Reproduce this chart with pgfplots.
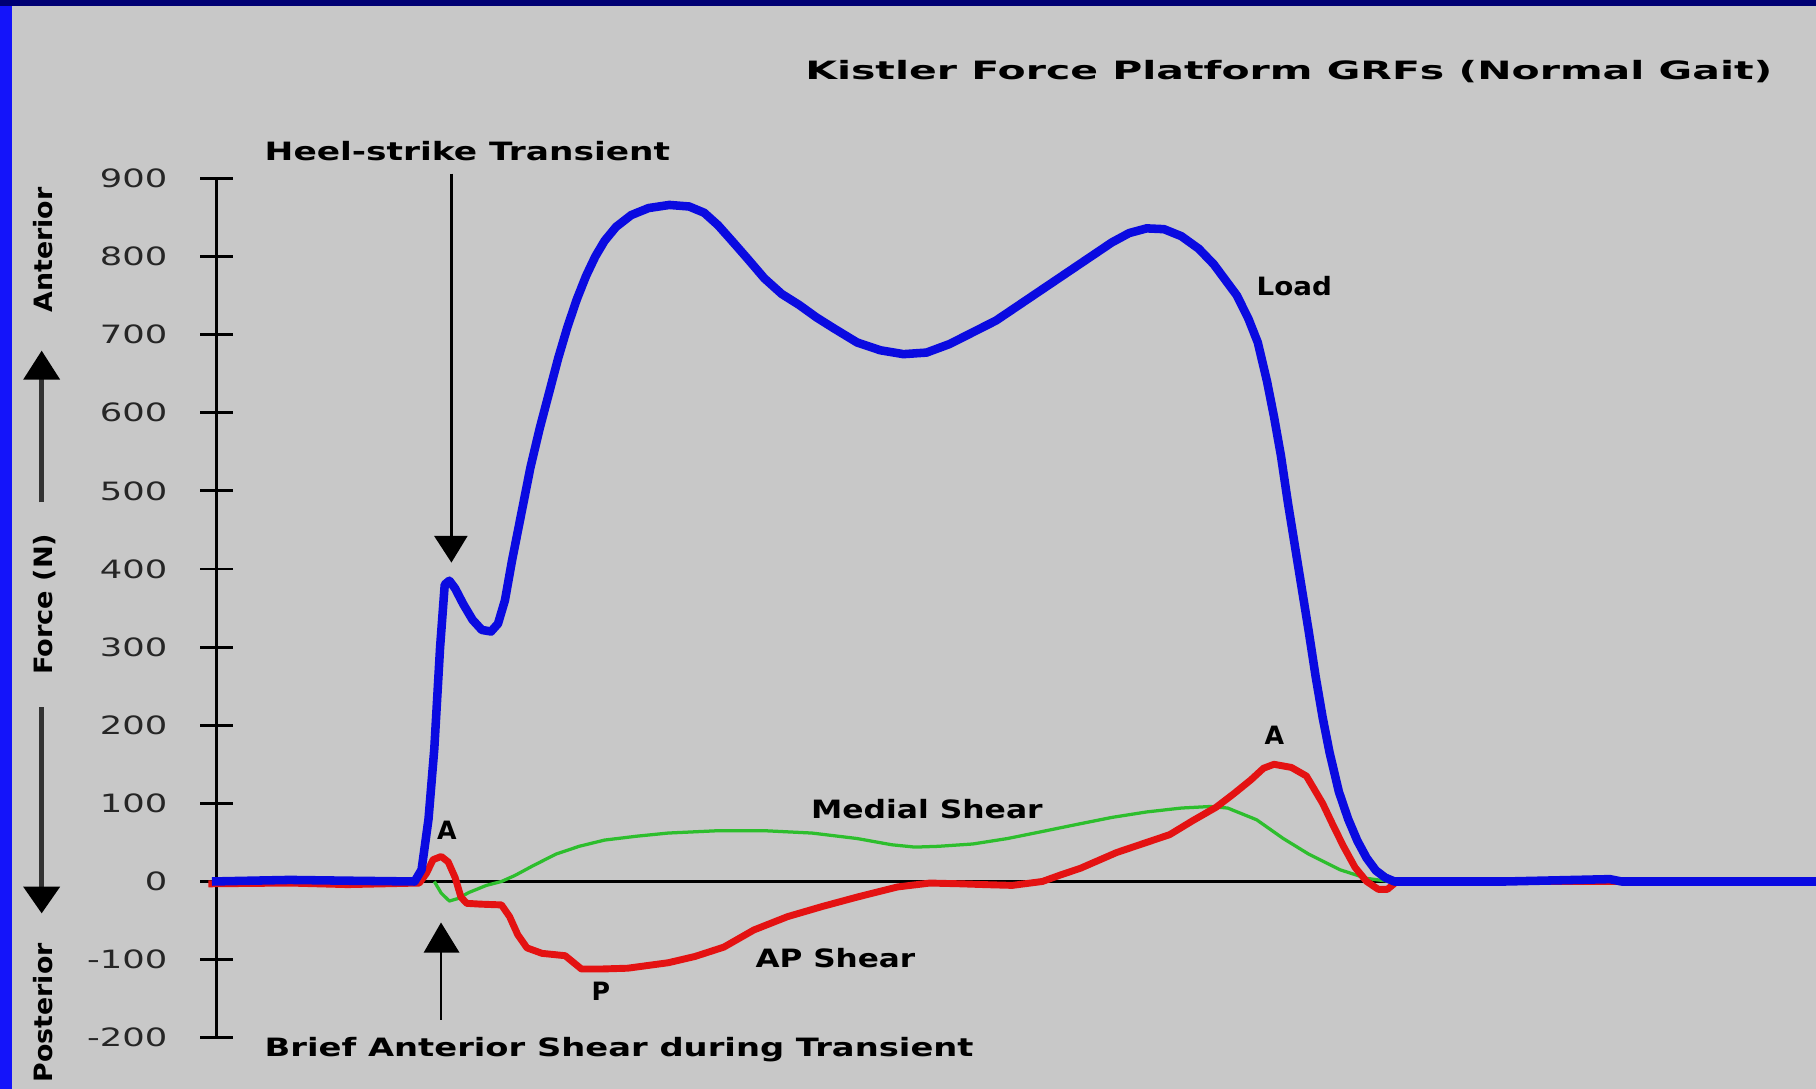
\documentclass[border=0pt]{standalone}
\usepackage{pgfplots}
\pgfplotsset{compat=1.18}
\usepackage{pgfplotstable}
\usepackage{fontspec}
\setmainfont{DejaVu Sans}
\usepackage{graphicx}
\definecolor{bgc}{RGB}{200,200,200}
\definecolor{lblue}{RGB}{10,10,225}
\definecolor{lred}{RGB}{228,18,18}
\definecolor{lgreen}{RGB}{45,190,45}
\definecolor{border}{RGB}{20,20,250}
\definecolor{navy}{RGB}{0,0,115}
\newcommand{\fitb}[2]{\resizebox{#1}{\height}{\fontsize{6.2pt}{7pt}\selectfont\bfseries #2}}

\pgfplotstableread{
x y
183 0
250 2
300 1
358 0
364 15
370 80
375 170
380 300
384 380
388 385
393 375
400 355
408 335
416 322
424 320
430 330
436 360
442 410
450 470
458 530
466 580
474 625
482 670
490 710
498 745
506 775
514 800
522 820
532 838
545 853
560 862
578 866
595 864
608 856
620 840
632 820
645 798
660 772
675 752
690 738
705 722
720 708
740 690
760 680
780 675
800 677
820 688
840 703
860 718
880 738
900 758
920 778
940 798
960 818
975 830
990 836
1005 835
1020 826
1035 810
1048 790
1058 770
1068 750
1078 720
1086 690
1094 640
1100 595
1106 545
1112 485
1118 430
1124 375
1130 320
1136 262
1142 210
1148 165
1156 115
1164 80
1172 52
1180 30
1188 14
1196 5
1204 0
1300 0
1390 3
1400 0
1568 0
}\bluetab

\pgfplotstableread{
x y
180 -3
250 -2
300 -4
362 -2
368 10
374 28
381 32
387 25
393 5
398 -20
403 -28
415 -29
433 -30
440 -45
447 -68
455 -85
468 -92
488 -95
502 -112
520 -112
542 -111
577 -104
600 -96
625 -84
651 -62
680 -45
710 -32
740 -20
775 -7
803 -2
830 -3
850 -4
874 -5
900 0
915 8
933 17
964 37
990 50
1010 60
1030 78
1050 95
1065 112
1080 130
1091 145
1100 150
1115 146
1128 135
1142 100
1151 72
1160 45
1170 18
1180 0
1190 -10
1198 -10
1206 0
1568 0
}\redtab

\pgfplotstableread{
x y
375 0
381 -15
388 -25
395 -22
405 -14
420 -5
433 0
445 8
460 20
480 35
500 45
522 53
550 58
577 62
620 65
660 65
701 62
740 55
770 47
790 44
810 45
840 48
870 55
900 64
933 74
960 82
990 89
1020 94
1045 96
1060 94
1085 79
1108 55
1130 35
1157 15
1180 4
1200 0
}\greentab

\begin{document}
\begin{tikzpicture}
\useasboundingbox (0,0) rectangle (15.68,9.40);
\fill[bgc] (0,0) rectangle (15.68,9.40);
\fill[border] (0,0) rectangle (0.10,9.40);
\fill[navy] (0,9.35) rectangle (15.68,9.40);
\begin{axis}[
  at={(1.87cm,0.44cm)}, anchor=south west,
  scale only axis, width=13.81cm, height=7.42cm,
  xmin=187, xmax=1568, ymin=-200, ymax=900,
  clip=false,
  axis x line=none, axis y line=left,
  y axis line style={-, line width=0.7pt, black},
  ytick={-200,-100,...,900},
  tick align=center, major tick length=0.28cm,
  ytick style={line width=0.7pt, black},
  yticklabel style={font=\fontsize{6.2pt}{6.2pt}\selectfont, xscale=1.4, anchor=east, xshift=-0.08cm, black!85},
  /pgf/number format/assume math mode=true,
  /pgf/number format/1000 sep={},
]
\draw[black, line width=0.6pt] (axis cs:187,0) -- (axis cs:1568,0);
\addplot[lgreen, line width=0.8pt, line join=round] table {\greentab};
\addplot[lred, line width=1.7pt, line join=round] table {\redtab};
\addplot[lblue, line width=2.1pt, line join=round] table {\bluetab};
\end{axis}
\begin{scope}[x=0.01cm, y=-0.01cm, yshift=9.40cm]
\node[anchor=base west, inner sep=0] at (695,69) {\fitb{8.35cm}{Kistler Force Platform GRFs (Normal Gait)}};
\node[anchor=base west, inner sep=0] at (228,139) {\fitb{3.50cm}{Heel-strike Transient}};
\node[anchor=base west, inner sep=0] at (1085,255) {\fitb{0.65cm}{Load}};
\node[anchor=base west, inner sep=0] at (700,707) {\fitb{2.00cm}{Medial Shear}};
\node[anchor=base west, inner sep=0] at (652,836) {\fitb{1.38cm}{AP Shear}};
\node[anchor=base west, inner sep=0] at (228,913) {\fitb{6.12cm}{Brief Anterior Shear during Transient}};
\node[anchor=base, inner sep=0] at (1101,643) {\fontsize{6.2pt}{7pt}\selectfont\bfseries A};
\node[anchor=base, inner sep=0] at (386,725) {\fontsize{6.2pt}{7pt}\selectfont\bfseries A};
\node[anchor=base, inner sep=0] at (519,864) {\fontsize{6.2pt}{7pt}\selectfont\bfseries P};
% arrows
\draw[black, line width=0.6pt] (390,150) -- (390,466);
\fill[black] (375,463) -- (404,463) -- (390,486) -- cycle;
\draw[black, line width=0.6pt] (381,881) -- (381,820);
\fill[black] (366,823) -- (397,823) -- (381,797) -- cycle;
\draw[black!80, line width=1.1pt] (36,434) -- (36,325);
\fill[black] (20,328) -- (52,328) -- (36,303) -- cycle;
\draw[black!80, line width=1.1pt] (36,611) -- (36,768);
\fill[black] (20,766) -- (52,766) -- (36,789) -- cycle;
% vertical labels
\node[rotate=90, anchor=base, inner sep=0] at (45,216) {\fitb{1.08cm}{Anterior}};
\node[rotate=90, anchor=base, inner sep=0] at (45,522) {\fitb{1.22cm}{Force (N)}};
\node[rotate=90, anchor=base, inner sep=0] at (45,875) {\fitb{1.20cm}{Posterior}};
\end{scope}
\end{tikzpicture}
\end{document}
